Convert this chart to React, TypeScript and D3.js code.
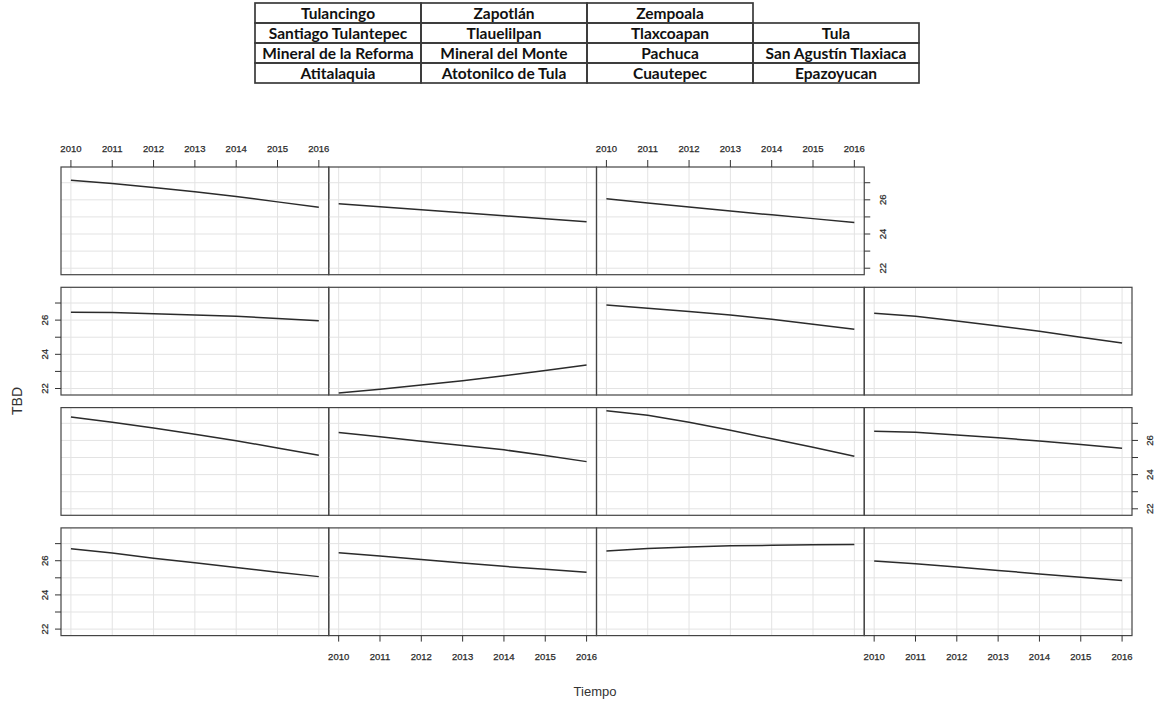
import React from "react";
import * as d3 from "d3";

const years = [2010, 2011, 2012, 2013, 2014, 2015, 2016];
const yTicks = [22, 23, 24, 25, 26, 27];
const yLabelTicks = [22, 24, 26];

// table of municipalities, row by row (null = empty cell)
const tableRows: (string | null)[][] = [
  ["Tulancingo", "Zapotlán", "Zempoala", null],
  ["Santiago Tulantepec", "Tlauelilpan", "Tlaxcoapan", "Tula"],
  ["Mineral de la Reforma", "Mineral del Monte", "Pachuca", "San Agustín Tlaxiaca"],
  ["Atitalaquia", "Atotonilco de Tula", "Cuautepec", "Epazoyucan"],
];

const tulancingo = [27.15, 26.95, 26.72, 26.47, 26.2, 25.88, 25.56];
const zapotlan = [25.77, 25.6, 25.42, 25.25, 25.07, 24.9, 24.72];
const zempoala = [26.06, 25.82, 25.58, 25.35, 25.12, 24.9, 24.68];
const santiagoTulantepec = [26.46, 26.45, 26.38, 26.3, 26.22, 26.1, 25.97];
const tlauelilpan = [21.74, 21.95, 22.2, 22.45, 22.75, 23.05, 23.37];
const tlaxcoapan = [26.88, 26.7, 26.5, 26.3, 26.05, 25.76, 25.46];
const tula = [26.4, 26.22, 25.95, 25.65, 25.35, 25.0, 24.66];
const mineralReforma = [27.37, 27.07, 26.72, 26.36, 25.98, 25.56, 25.13];
const mineralMonte = [26.46, 26.22, 25.95, 25.7, 25.45, 25.12, 24.76];
const pachuca = [27.74, 27.47, 27.06, 26.59, 26.1, 25.6, 25.07];
const sanAgustin = [26.53, 26.48, 26.32, 26.15, 25.97, 25.76, 25.54];
const atitalaquia = [26.7, 26.45, 26.15, 25.88, 25.6, 25.33, 25.07];
const atotonilco = [26.47, 26.27, 26.07, 25.86, 25.67, 25.5, 25.32];
const cuautepec = [26.57, 26.72, 26.8, 26.87, 26.9, 26.93, 26.95];
const epazoyucan = [25.99, 25.82, 25.63, 25.43, 25.23, 25.03, 24.84];

const panelSeries: (number[] | null)[][] = [
  [tulancingo, zapotlan, zempoala, null],
  [santiagoTulantepec, tlauelilpan, tlaxcoapan, tula],
  [mineralReforma, mineralMonte, pachuca, sanAgustin],
  [atitalaquia, atotonilco, cuautepec, epazoyucan],
];

const W = 1155;
const H = 702;
const plotLeft = 61;
const plotRight = 1132;
const colW = (plotRight - plotLeft) / 4;
const rowTop0 = 167;
const rowStep = 120.3;
const rowH = 107.7;

const axisFont = "'Liberation Sans', Arial, sans-serif";
const tickColor = "#2a2a2a";

export default function App() {
  const yScaleFor = (r: number) =>
    d3.scaleLinear().domain([21.62, 27.92]).range([rowTop0 + r * rowStep + rowH, rowTop0 + r * rowStep]);
  const xScaleFor = (c: number) =>
    d3.scaleLinear().domain([2009.76, 2016.24]).range([plotLeft + c * colW, plotLeft + (c + 1) * colW]);

  const tickText = { fontSize: 9.5, fontFamily: axisFont, fill: tickColor, stroke: tickColor, strokeWidth: 0.25 };

  const panels: React.ReactNode[] = [];
  panelSeries.forEach((row, r) => {
    row.forEach((vals, c) => {
      if (!vals) return;
      const x = xScaleFor(c);
      const y = yScaleFor(r);
      const x0 = plotLeft + c * colW;
      const y0 = rowTop0 + r * rowStep;
      const line = d3
        .line<number>()
        .x((_, i) => x(years[i]))
        .y((v) => y(v));
      panels.push(
        <g key={`p${r}-${c}`}>
          {years.map((yr) => (
            <line key={`vx${yr}`} x1={x(yr)} x2={x(yr)} y1={y0} y2={y0 + rowH} stroke="#e3e3e3" strokeWidth={1} />
          ))}
          {yTicks.map((t) => (
            <line key={`hy${t}`} x1={x0} x2={x0 + colW} y1={y(t)} y2={y(t)} stroke="#e3e3e3" strokeWidth={1} />
          ))}
          <path d={line(vals) || ""} fill="none" stroke="#2b2b2b" strokeWidth={1.5} />
          <rect x={x0} y={y0} width={colW} height={rowH} fill="none" stroke="#444" strokeWidth={1.2} />
        </g>
      );
    });
  });

  // x axes: top for columns 0 and 2 (row 0), bottom for columns 1 and 3 (row 3)
  const xAxes: React.ReactNode[] = [];
  [0, 2].forEach((c) => {
    const x = xScaleFor(c);
    const yTop = rowTop0;
    xAxes.push(
      <g key={`xt${c}`}>
        {years.map((yr) => (
          <g key={yr}>
            <line x1={x(yr)} x2={x(yr)} y1={yTop - 7} y2={yTop} stroke="#333" strokeWidth={1} />
            <text x={x(yr)} y={151.5} textAnchor="middle" {...tickText}>
              {yr}
            </text>
          </g>
        ))}
      </g>
    );
  });
  [1, 3].forEach((c) => {
    const x = xScaleFor(c);
    const yBot = rowTop0 + 3 * rowStep + rowH;
    xAxes.push(
      <g key={`xb${c}`}>
        {years.map((yr) => (
          <g key={yr}>
            <line x1={x(yr)} x2={x(yr)} y1={yBot} y2={yBot + 6} stroke="#333" strokeWidth={1} />
            <text x={x(yr)} y={659.5} textAnchor="middle" {...tickText}>
              {yr}
            </text>
          </g>
        ))}
      </g>
    );
  });

  // y axes: right for rows 0 (at col 2 edge) and 2 (col 3 edge); left for rows 1 and 3
  const yAxes: React.ReactNode[] = [];
  const rightAxes = [
    { r: 0, xEdge: plotLeft + 3 * colW, labelX: 885.5 },
    { r: 2, xEdge: plotRight, labelX: 1152.5 },
  ];
  rightAxes.forEach(({ r, xEdge, labelX }) => {
    const y = yScaleFor(r);
    yAxes.push(
      <g key={`yr${r}`}>
        {yTicks.map((t) => (
          <line key={t} x1={xEdge} x2={xEdge + 6} y1={y(t)} y2={y(t)} stroke="#333" strokeWidth={1} />
        ))}
        {yLabelTicks.map((t) => (
          <text key={`l${t}`} transform={`translate(${labelX},${y(t)}) rotate(-90)`} textAnchor="middle" {...tickText}>
            {t}
          </text>
        ))}
      </g>
    );
  });
  [1, 3].forEach((r) => {
    const y = yScaleFor(r);
    yAxes.push(
      <g key={`yl${r}`}>
        {yTicks.map((t) => (
          <line key={t} x1={plotLeft - 6} x2={plotLeft} y1={y(t)} y2={y(t)} stroke="#333" strokeWidth={1} />
        ))}
        {yLabelTicks.map((t) => (
          <text key={`l${t}`} transform={`translate(${47.5},${y(t)}) rotate(-90)`} textAnchor="middle" {...tickText}>
            {t}
          </text>
        ))}
      </g>
    );
  });

  // table
  const tLeft = 255;
  const tTop = 3;
  const tColW = 166;
  const tRowH = 20;
  const tableEls: React.ReactNode[] = [];
  tableRows.forEach((row, r) => {
    row.forEach((name, c) => {
      if (name === null) return;
      const cx = tLeft + c * tColW;
      const cy = tTop + r * tRowH;
      tableEls.push(
        <g key={`t${r}-${c}`}>
          <rect x={cx} y={cy} width={tColW} height={tRowH} fill="none" stroke="#3a3a3a" strokeWidth={1.7} />
          <text
            x={cx + tColW / 2}
            y={cy + tRowH / 2 + 5.5}
            textAnchor="middle"
            fontSize={15.5}
            fontWeight="bold"
            fontFamily="Lato, 'Open Sans', sans-serif"
            fill="#111"
            textLength={undefined}
          >
            {name}
          </text>
        </g>
      );
    });
  });

  return (
    <svg
      width={W}
      height={H}
      style={{ position: "absolute", left: 0, top: 0, background: "#fff" }}
      xmlns="http://www.w3.org/2000/svg"
    >
      <rect x={0} y={0} width={W} height={H} fill="#fff" />
      {tableEls}
      {panels}
      {xAxes}
      {yAxes}
      <text transform={`translate(22,401) rotate(-90)`} textAnchor="middle" fontSize={14} fontFamily={axisFont} fill="#333">
        TBD
      </text>
      <text x={595} y={696} textAnchor="middle" fontSize={13} fontFamily={axisFont} fill="#333">
        Tiempo
      </text>
    </svg>
  );
}
